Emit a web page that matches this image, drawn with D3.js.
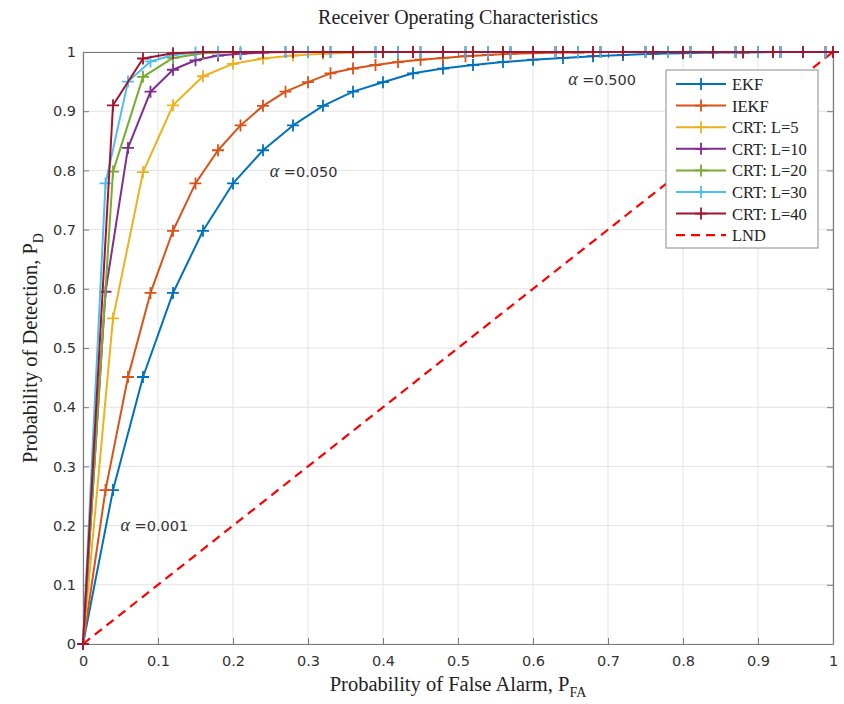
<!DOCTYPE html>
<html>
<head>
<meta charset="utf-8">
<script src="https://cdn.jsdelivr.net/npm/d3@7"></script>
<style>
  html, body { margin: 0; padding: 0; background: #fff; }
  svg { display: block; }
</style>
</head>
<body>
<svg id="chart" width="844" height="704"></svg>
<script>
// False-alarm probability grids used by the detectors
const pfaGrid04 = [0, 0.04, 0.08, 0.12, 0.16, 0.20, 0.24, 0.28, 0.32, 0.36, 0.40, 0.44, 0.48,
  0.52, 0.56, 0.60, 0.64, 0.68, 0.72, 0.76, 0.80, 0.84, 0.88, 0.92, 0.96, 1.00];
const pfaGrid03 = [0, 0.03, 0.06, 0.09, 0.12, 0.15, 0.18, 0.21, 0.24, 0.27, 0.30, 0.33, 0.36,
  0.39, 0.42, 0.45, 0.48, 0.51, 0.54, 0.57, 0.60, 0.63, 0.66, 0.69, 0.72, 0.75, 0.78, 0.81,
  0.84, 0.87, 0.90, 0.93, 0.96, 0.99];

// Detection probabilities
const pdEKF = [0, 0.26, 0.451, 0.593, 0.698, 0.778, 0.834, 0.876, 0.909, 0.933, 0.949, 0.964, 0.972,
  0.978, 0.983, 0.987, 0.990, 0.993, 0.995, 0.997, 0.998, 0.999, 0.999, 1, 1, 1];
const pdIEKF = [0, 0.26, 0.451, 0.593, 0.698, 0.778, 0.834, 0.876, 0.909, 0.933, 0.949, 0.964, 0.972,
  0.978, 0.983, 0.987, 0.990, 0.993, 0.995, 0.997, 0.998, 0.999, 0.999, 1, 1, 1, 1, 1, 1, 1, 1, 1, 1, 1];
const pdL5 = [0, 0.55, 0.797, 0.91, 0.959, 0.980, 0.989, 0.994, 0.997, 0.999, 1, 1, 1,
  1, 1, 1, 1, 1, 1, 1, 1, 1, 1, 1, 1, 1];
const pdL10 = [0, 0.595, 0.838, 0.933, 0.970, 0.986, 0.994, 0.997, 0.999, 1, 1, 1, 1, 1, 1, 1, 1,
  1, 1, 1, 1, 1, 1, 1, 1, 1, 1, 1, 1, 1, 1, 1, 1, 1];
const pdL20 = [0, 0.798, 0.958, 0.990, 0.998, 1, 1, 1, 1, 1, 1, 1, 1,
  1, 1, 1, 1, 1, 1, 1, 1, 1, 1, 1, 1, 1];
const pdL30 = [0, 0.778, 0.950, 0.984, 0.995, 0.999, 1, 1, 1, 1, 1, 1, 1, 1, 1, 1, 1,
  1, 1, 1, 1, 1, 1, 1, 1, 1, 1, 1, 1, 1, 1, 1, 1, 1];
const pdL40 = [0, 0.91, 0.989, 0.998, 1, 1, 1, 1, 1, 1, 1, 1, 1,
  1, 1, 1, 1, 1, 1, 1, 1, 1, 1, 1, 1, 1];
const lndPfa = [0, 1];
const lndPd = [0, 1];

const seriesNames = ["EKF", "IEKF", "CRT: L=5", "CRT: L=10", "CRT: L=20", "CRT: L=30", "CRT: L=40"];
const seriesColors = ["#0072BD", "#D95319", "#EDB120", "#7E2F8E", "#77AC30", "#4DBEEE", "#A2142F"];
const seriesPfa = [pfaGrid04, pfaGrid03, pfaGrid04, pfaGrid03, pfaGrid04, pfaGrid03, pfaGrid04];
const seriesPd = [pdEKF, pdIEKF, pdL5, pdL10, pdL20, pdL30, pdL40];

const tickValues = [0, 0.1, 0.2, 0.3, 0.4, 0.5, 0.6, 0.7, 0.8, 0.9, 1];
const tickLabels = ["0", "0.1", "0.2", "0.3", "0.4", "0.5", "0.6", "0.7", "0.8", "0.9", "1"];

const thresholdNotes = [
  { alpha: "0.001", pfa: 0.050, pd: 0.200 },
  { alpha: "0.050", pfa: 0.249, pd: 0.797 },
  { alpha: "0.500", pfa: 0.647, pd: 0.953 }
];

(function draw() {
  const svg = d3.select("#chart");
  const pL = 83, pR = 833, pT = 52, pB = 644;
  const x = d3.scaleLinear().domain([0, 1]).range([pL, pR]);
  const y = d3.scaleLinear().domain([0, 1]).range([pB, pT]);
  const axisGray = "#7a7a7a";
  const serif = "'Liberation Serif', 'Times New Roman', serif";
  const sans = "'DejaVu Sans', Verdana, sans-serif";

  // grid
  const grid = svg.append("g");
  tickValues.forEach(v => {
    grid.append("line").attr("x1", x(v)).attr("x2", x(v)).attr("y1", pT).attr("y2", pB)
      .attr("stroke", "#e3e3e3").attr("stroke-width", 1);
    grid.append("line").attr("x1", pL).attr("x2", pR).attr("y1", y(v)).attr("y2", y(v))
      .attr("stroke", "#e3e3e3").attr("stroke-width", 1);
  });

  // axes (ticks inward on all four sides)
  const fmt = (d, i) => tickLabels[i];
  svg.append("g").attr("transform", `translate(0,${pB})`)
    .call(d3.axisBottom(x).tickValues(tickValues).tickFormat(fmt).tickSizeInner(-6).tickSizeOuter(0).tickPadding(12));
  svg.append("g").attr("transform", `translate(${pL},0)`)
    .call(d3.axisLeft(y).tickValues(tickValues).tickFormat(fmt).tickSizeInner(-6).tickSizeOuter(0).tickPadding(7));
  svg.append("g").attr("transform", `translate(0,${pT})`)
    .call(d3.axisTop(x).tickValues(tickValues).tickFormat("").tickSizeInner(-6).tickSizeOuter(0));
  svg.append("g").attr("transform", `translate(${pR},0)`)
    .call(d3.axisRight(y).tickValues(tickValues).tickFormat("").tickSizeInner(-6).tickSizeOuter(0));
  svg.selectAll(".domain").attr("stroke", axisGray).attr("stroke-width", 1.2);
  svg.selectAll(".tick line").attr("stroke", axisGray);
  svg.selectAll(".tick text").attr("font-family", sans).attr("font-size", 14.5).attr("fill", "#333");

  // LND diagonal
  svg.append("path")
    .attr("d", d3.line().x(d => x(d)).y((d, i) => y(lndPd[i]))(lndPfa))
    .attr("fill", "none").attr("stroke", "#ff0000").attr("stroke-width", 2.2)
    .attr("stroke-dasharray", "9,6");

  // detector curves with plus markers
  const plus = "M-6,0H6M0,-6V6";
  seriesNames.forEach((name, s) => {
    const pfa = seriesPfa[s], pd = seriesPd[s], col = seriesColors[s];
    const pts = pfa.map((v, i) => [v, pd[i]]);
    const g = svg.append("g");
    g.append("path")
      .attr("d", d3.line().x(d => x(d[0])).y(d => y(d[1]))(pts))
      .attr("fill", "none").attr("stroke", col).attr("stroke-width", 2).attr("stroke-linejoin", "round");
    g.selectAll("path.m").data(pts).enter().append("path").attr("class", "m")
      .attr("d", plus).attr("transform", d => `translate(${x(d[0])},${y(d[1])})`)
      .attr("stroke", col).attr("stroke-width", 1.8).attr("fill", "none");
  });

  // threshold annotations
  thresholdNotes.forEach(n => {
    const t = svg.append("text").attr("x", x(n.pfa)).attr("y", y(n.pd) + 5)
      .attr("font-size", 14.5).attr("fill", "#333");
    t.append("tspan").attr("font-family", serif).attr("font-style", "italic").attr("font-size", 18).text("α");
    t.append("tspan").attr("font-family", sans).text(" =" + n.alpha);
  });

  // legend
  const lg = svg.append("g").attr("transform", "translate(666,70)");
  lg.append("rect").attr("x", 0).attr("y", 0).attr("width", 152).attr("height", 178)
    .attr("fill", "#fff").attr("stroke", "#8a8a8a").attr("stroke-width", 1);
  const legendNames = seriesNames.concat(["LND"]);
  legendNames.forEach((name, i) => {
    const yy = 14 + i * 21.6;
    if (i < seriesNames.length) {
      lg.append("line").attr("x1", 10).attr("x2", 60).attr("y1", yy).attr("y2", yy)
        .attr("stroke", seriesColors[i]).attr("stroke-width", 2);
      lg.append("path").attr("d", plus).attr("transform", `translate(35,${yy})`)
        .attr("stroke", seriesColors[i]).attr("stroke-width", 1.8);
    } else {
      lg.append("line").attr("x1", 10).attr("x2", 60).attr("y1", yy).attr("y2", yy)
        .attr("stroke", "#ff0000").attr("stroke-width", 2.2).attr("stroke-dasharray", "9,6");
    }
    lg.append("text").attr("x", 66).attr("y", yy + 6).attr("font-family", serif)
      .attr("font-size", 16.5).attr("fill", "#222").text(name);
  });

  // title and axis labels
  svg.append("text").attr("x", (pL + pR) / 2).attr("y", 24).attr("text-anchor", "middle")
    .attr("font-family", serif).attr("font-size", 20).attr("fill", "#222")
    .text("Receiver Operating Characteristics");

  const xl = svg.append("text").attr("x", (pL + pR) / 2).attr("y", 691).attr("text-anchor", "middle")
    .attr("font-family", serif).attr("font-size", 20.5).attr("fill", "#222");
  xl.append("tspan").text("Probability of False Alarm, P");
  xl.append("tspan").attr("font-size", 14).attr("dy", 6).text("FA");

  const yl = svg.append("text").attr("transform", `translate(37,${(pT + pB) / 2}) rotate(-90)`)
    .attr("text-anchor", "middle").attr("font-family", serif).attr("font-size", 20.5).attr("fill", "#222");
  yl.append("tspan").text("Probability of Detection, P");
  yl.append("tspan").attr("font-size", 14).attr("dy", 6).text("D");
})();
</script>
</body>
</html>
